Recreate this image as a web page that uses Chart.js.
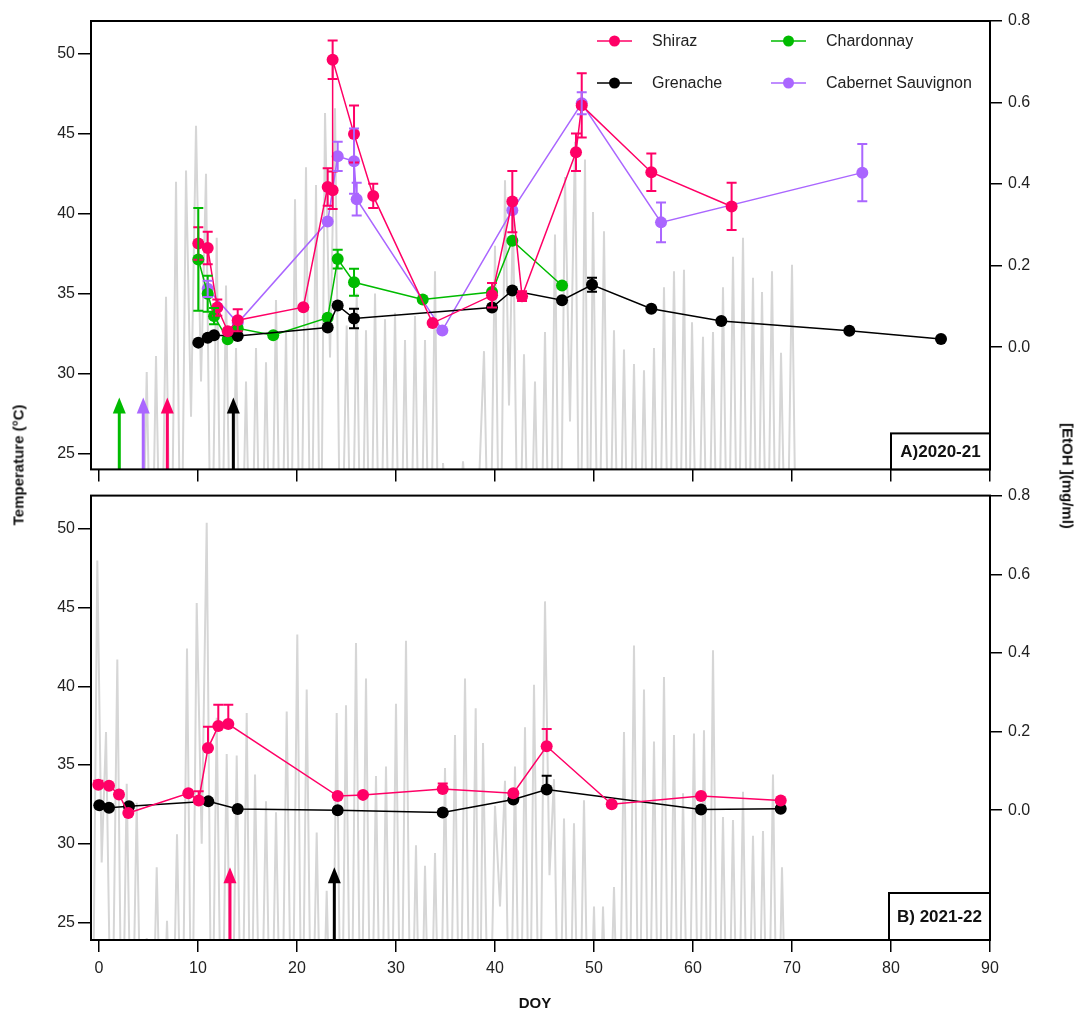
<!DOCTYPE html>
<html>
<head>
<meta charset="utf-8">
<script src="https://cdn.jsdelivr.net/npm/chart.js@4.4.1/dist/chart.umd.min.js"></script>
<style>
  body { margin: 0; background: #fff; width: 1080px; height: 1015px; position: relative; overflow: hidden;
         font-family: "Liberation Sans", Arial, sans-serif; }
  canvas { position: absolute; left: 0; }
  #chartA { top: 0; }
  #chartB { top: 480px; }
  .ttl { position: absolute; font-weight: bold; font-size: 15px; color: #111; white-space: nowrap;
         transform: translate(-50%, -50%); }
</style>
</head>
<body>
<canvas id="chartA" width="1080" height="485"></canvas>
<canvas id="chartB" width="1080" height="535"></canvas>
<div class="ttl" style="left:18px;top:465px;transform:translate(-50%,-50%) rotate(-90deg)">Temperature (°C)</div>
<div class="ttl" style="left:1068px;top:476px;transform:translate(-50%,-50%) rotate(90deg)">[EtOH ](mg/ml)</div>
<div class="ttl" style="left:535px;top:1002px">DOY</div>
<script>
// axis ticks
var DOY_TICKS = [0, 10, 20, 30, 40, 50, 60, 70, 80, 90];
var TEMP_TICKS = [25, 30, 35, 40, 45, 50];
var ETOH_TICKS = [0, 0.2, 0.4, 0.6, 0.8];
var ARROW_TIP_TEMP = 28.5;

// ---- A) 2020-21 : [EtOH] (mg/ml) ----
var doyA_shiraz = [10.03, 10.98, 11.95, 13.0, 14.01, 20.64, 23.1, 23.6, 23.6, 25.76, 27.7, 33.7, 39.7, 41.75, 42.73, 48.18, 48.76, 55.79, 63.9];
var etohA_shiraz = [0.254, 0.243, 0.097, 0.039, 0.066, 0.098, 0.393, 0.385, 0.705, 0.523, 0.371, 0.059, 0.127, 0.357, 0.125, 0.478, 0.593, 0.429, 0.345];
var errA_shiraz = [0.04, 0.04, 0.02, 0, 0.027, 0, 0.046, 0.046, 0.047, 0.07, 0.03, 0, 0.03, 0.075, 0.012, 0.046, 0.079, 0.046, 0.058];

var doyA_grenache = [10.03, 10.98, 11.62, 14.01, 23.1, 24.11, 25.76, 39.7, 41.75, 46.77, 49.8, 55.79, 62.86, 75.79, 85.05];
var etohA_grenache = [0.011, 0.023, 0.029, 0.027, 0.048, 0.102, 0.070, 0.097, 0.139, 0.115, 0.153, 0.094, 0.064, 0.040, 0.020];
var errA_grenache = [0, 0, 0, 0, 0, 0, 0.024, 0, 0, 0, 0.017, 0, 0, 0, 0];

var doyA_chardonnay = [10.03, 10.98, 11.62, 13.0, 14.01, 17.6, 23.1, 24.11, 25.76, 32.7, 39.7, 41.75, 46.77];
var etohA_chardonnay = [0.215, 0.131, 0.076, 0.019, 0.046, 0.029, 0.072, 0.216, 0.159, 0.117, 0.135, 0.261, 0.151];
var errA_chardonnay = [0.126, 0.044, 0.02, 0, 0, 0, 0, 0.023, 0.033, 0, 0, 0, 0];

var doyA_cabernet = [10.98, 14.01, 23.1, 24.11, 25.76, 26.03, 34.68, 41.75, 48.76, 56.77, 77.1];
var etohA_cabernet = [0.143, 0.059, 0.308, 0.468, 0.456, 0.363, 0.041, 0.336, 0.598, 0.306, 0.428];
var errA_cabernet = [0.02, 0, 0, 0.036, 0.08, 0.04, 0, 0, 0.027, 0.049, 0.07];

// grey temperature trace A: daily peaks and the lows around them (lows below 24 are off the axis)
var tempA_time = [4.82, 5.76, 6.77, 7.78, 8.79, 9.80, 10.81, 11.89, 12.83, 13.84,
  14.85, 15.86, 16.87, 17.88, 18.89, 19.8, 20.91, 21.92, 22.83, 23.84,
  25.02, 26.03, 26.97, 27.88, 28.89, 29.9, 30.91, 31.92, 32.93, 33.94,
  34.75, 36.77, 38.89, 40.0, 41.01, 41.82, 42.93, 44.04, 45.05, 46.06,
  47.07, 48.08, 49.09, 49.9, 51.01, 52.02, 53.03, 54.04, 55.05, 56.06,
  57.07, 58.08, 59.09, 59.9, 61.01, 62.02, 63.03, 64.04, 65.05, 66.06,
  66.97, 67.98, 68.89, 70.0];
var tempA_max = [30.1, 31.1, 34.8, 42.0, 42.7, 45.5, 42.5, 38.5, 35.5, 31.6,
  29.5, 31.6, 30.7, 34.6, 32.6, 40.9, 42.9, 41.8, 46.3, 46.6,
  33.0, 35.0, 32.7, 35.0, 33.4, 33.8, 32.1, 33.6, 32.1, 36.4,
  24.4, 24.5, 31.4, 38.0, 42.1, 40.0, 31.2, 29.5, 32.6, 38.7,
  42.3, 44.5, 43.4, 40.1, 38.9, 32.7, 31.5, 30.6, 30.2, 31.6,
  35.4, 36.4, 36.5, 33.2, 32.3, 32.6, 35.4, 37.3, 38.5, 36.0,
  35.1, 36.4, 31.3, 36.8];
var tempA_low = [14, 14, 14, 14, 14, 27.3, 29.5, 14, 14, 14,
  14, 14, 14, 14, 14, 14, 14, 14, 14, 31.0,
  14, 14, 14, 14, 14, 14, 14, 14, 14, 14,
  14, 14, 14, 14, 14, 28, 14, 14, 14, 14,
  14, 27, 14, 14, 14, 14, 14, 14, 14, 14,
  14, 14, 14, 14, 14, 14, 14, 14, 14, 14,
  14, 14, 14, 14, 14];

var arrowA_doy = [2.05, 4.47, 6.9, 13.57];

// ---- B) 2021-22 ----
var doyB_shiraz = [-0.07, 1.01, 2.02, 2.96, 9.02, 10.07, 11.01, 12.05, 13.06, 24.11, 26.67, 34.72, 41.85, 45.22, 51.79, 60.81, 68.86];
var etohB_shiraz = [0.065, 0.0625, 0.04, -0.007, 0.043, 0.025, 0.158, 0.214, 0.219, 0.036, 0.039, 0.054, 0.043, 0.1625, 0.015, 0.036, 0.025];
var errB_shiraz = [0.01, 0, 0, 0, 0, 0.023, 0.054, 0.054, 0.049, 0, 0, 0.014, 0, 0.044, 0, 0, 0];

var doyB_grenache = [0.03, 1.01, 3.03, 11.04, 14.01, 24.11, 34.72, 41.85, 45.22, 60.81, 68.86];
var etohB_grenache = [0.0125, 0.006, 0.01, 0.0225, 0.003, 0.0, -0.006, 0.0275, 0.0525, 0.002, 0.004];
var errB_grenache = [0, 0, 0, 0, 0, 0, 0, 0, 0.035, 0, 0];

var tempB_time = [-0.17, 0.71, 1.85, 2.80, 3.81, 4.82, 5.83, 6.87, 7.88, 8.89,
  9.87, 10.88, 11.89, 12.90, 13.91, 14.92, 15.76, 16.87, 17.88, 18.96,
  20.03, 20.98, 21.99, 23.0, 24.01, 24.95, 25.96, 26.97, 27.98, 28.99,
  30.0, 31.01, 32.02, 32.93, 33.94, 34.95, 35.96, 36.97, 38.05, 38.79,
  40.0, 41.01, 42.02, 43.03, 43.94, 45.05, 45.96, 46.97, 47.98, 48.99,
  50.0, 50.91, 52.02, 53.03, 54.04, 55.05, 56.06, 57.07, 58.08, 58.99,
  60.1, 61.11, 62.02, 63.03, 64.04, 65.05, 66.06, 67.07, 68.08, 68.99];
var tempB_max = [48.0, 37.1, 41.7, 33.8, 32.6, 24.0, 28.5, 25.1, 30.6, 42.4,
  45.3, 50.4, 38.0, 35.7, 35.6, 38.3, 34.4, 32.7, 32.0, 38.4,
  43.3, 39.8, 30.7, 27.0, 38.3, 38.8, 42.75, 40.5, 34.3, 34.9,
  38.9, 42.9, 29.9, 28.6, 29.4, 34.8, 36.9, 40.5, 38.6, 36.4,
  32.4, 34.0, 34.9, 37.4, 40.1, 45.4, 34.1, 31.6, 31.3, 32.75,
  26.0, 26.0, 27.25, 37.1, 42.6, 39.8, 36.5, 40.6, 36.9, 33.2,
  37.0, 37.2, 42.3, 31.7, 31.5, 33.3, 30.5, 30.8, 34.4, 28.5];
var tempB_low = [14, 28.8, 14, 14, 14, 14, 14, 14, 14, 14,
  14, 30, 14, 14, 14, 14, 14, 14, 14, 14,
  14, 14, 14, 14, 14, 14, 14, 14, 14, 14,
  14, 14, 14, 14, 14, 14, 14, 14, 14, 14,
  14, 26, 14, 14, 14, 14, 28, 14, 14, 14,
  14, 14, 14, 14, 14, 14, 14, 14, 14, 14,
  14, 14, 14, 14, 14, 14, 14, 14, 14, 14,
  14];

var arrowB_doy = [13.23, 23.77];

var C_SHIRAZ = '#ff0066', C_GRENACHE = '#000000', C_CHARD = '#00bb00', C_CAB = '#aa66ff', C_TEMP = '#d6d6d6';

Chart.defaults.font.family = '"Liberation Sans", Arial, sans-serif';
Chart.defaults.color = '#222';

function pts(xs, ys) {
  return xs.map(function (x, i) { return { x: x, y: ys[i] }; });
}

// peaks with a low before, between and after them
function trace(times, highs, lows) {
  var out = [{ x: times[0] - 0.5, y: lows[0] }];
  for (var i = 0; i < times.length; i++) {
    out.push({ x: times[i], y: highs[i] });
    if (i < times.length - 1) out.push({ x: (times[i] + times[i + 1]) / 2, y: lows[i + 1] });
  }
  out.push({ x: times[times.length - 1] + 0.5, y: lows[times.length] });
  return out;
}

function tempSet(data) {
  return { label: 'temp', data: data, yAxisID: 'y', borderColor: C_TEMP, borderWidth: 2,
           pointRadius: 0, order: 10 };
}

function seriesSet(label, color, xs, ys, err, mode, order) {
  return { label: label, data: pts(xs, ys), yAxisID: 'y2', borderColor: color, backgroundColor: color,
           pointBackgroundColor: color, pointBorderWidth: 0, pointRadius: 6, borderWidth: 1.5,
           order: order, err: err, errMode: mode };
}

function fixedTicks(values) {
  return function (scale) { scale.ticks = values.map(function (v) { return { value: v }; }); };
}

function makeOptions(p) {
  return {
    responsive: false, animation: false, devicePixelRatio: 1, events: [],
    layout: { padding: { top: p.topPad, left: 0, right: 0, bottom: 0 } },
    plugins: { legend: { display: false }, tooltip: { enabled: false } },
    scales: {
      x: { type: 'linear', min: -0.808, max: 90,
        afterBuildTicks: fixedTicks(DOY_TICKS),
        afterFit: function (s) { s.height = p.xHeight; },
        border: { display: false },
        grid: { drawOnChartArea: false, tickLength: 12, color: '#000', lineWidth: 1.5 },
        ticks: { display: p.xLabels, font: { size: 16 }, padding: 7, maxRotation: 0, autoSkip: false,
                 callback: function (v) { return String(v); } } },
      y: { type: 'linear', position: 'left', min: p.tMin, max: p.tMax,
        afterBuildTicks: fixedTicks(TEMP_TICKS),
        afterFit: function (s) { s.width = 91; },
        border: { display: false },
        grid: { drawOnChartArea: false, tickLength: 13, color: '#000', lineWidth: 1.5 },
        ticks: { font: { size: 16 }, padding: 3, callback: function (v) { return String(v); } } },
      y2: { type: 'linear', position: 'right', min: p.eMin, max: 0.8,
        afterBuildTicks: fixedTicks(ETOH_TICKS),
        afterFit: function (s) { s.width = 90; },
        border: { display: false },
        grid: { drawOnChartArea: false, tickLength: 12, color: '#000', lineWidth: 1.5 },
        ticks: { font: { size: 16 }, padding: 6, callback: function (v) { return v.toFixed(1); } } }
    }
  };
}

function makeDecor(cfg) {
  return {
    id: 'decor',
    afterDatasetDraw: function (chart, args) {
      if (args.index !== 0) return;
      var ctx = chart.ctx, area = chart.chartArea;
      var xs = chart.scales.x, ys = chart.scales.y;
      cfg.arrows.forEach(function (a) {
        var px = xs.getPixelForValue(a.doy);
        var tip = ys.getPixelForValue(ARROW_TIP_TEMP);
        ctx.save();
        ctx.strokeStyle = a.color;
        ctx.fillStyle = a.color;
        ctx.lineWidth = 3;
        ctx.beginPath();
        ctx.moveTo(px, area.bottom);
        ctx.lineTo(px, tip + 12);
        ctx.stroke();
        ctx.beginPath();
        ctx.moveTo(px, tip);
        ctx.lineTo(px - 6.5, tip + 16);
        ctx.lineTo(px + 6.5, tip + 16);
        ctx.closePath();
        ctx.fill();
        ctx.restore();
      });
    },
    afterDatasetsDraw: function (chart) {
      var ctx = chart.ctx, xs = chart.scales.x, ys = chart.scales.y2;
      chart.data.datasets.forEach(function (ds) {
        if (!ds.err) return;
        ctx.save();
        ctx.strokeStyle = ds.borderColor;
        ctx.lineWidth = 2;
        ds.data.forEach(function (d, j) {
          var e = ds.err[j];
          if (!e) return;
          var px = xs.getPixelForValue(d.x);
          var top = ys.getPixelForValue(d.y + e);
          var bot = ds.errMode === 'up' ? ys.getPixelForValue(d.y) : ys.getPixelForValue(d.y - e);
          ctx.beginPath();
          ctx.moveTo(px, top); ctx.lineTo(px, bot);
          ctx.moveTo(px - 5, top); ctx.lineTo(px + 5, top);
          if (ds.errMode !== 'up') { ctx.moveTo(px - 5, bot); ctx.lineTo(px + 5, bot); }
          ctx.stroke();
        });
        ctx.restore();
      });
    },
    afterDraw: function (chart) {
      var ctx = chart.ctx, area = chart.chartArea;
      ctx.save();
      ctx.strokeStyle = '#000';
      ctx.lineWidth = 2;
      ctx.strokeRect(area.left, area.top, area.right - area.left, area.bottom - area.top);
      // panel label
      var bx = area.right - cfg.boxW, by = area.bottom - cfg.boxH;
      ctx.fillStyle = '#fff';
      ctx.fillRect(bx, by, cfg.boxW, cfg.boxH);
      ctx.strokeRect(bx, by, cfg.boxW, cfg.boxH);
      ctx.fillStyle = '#111';
      ctx.font = 'bold 17px "Liberation Sans", Arial, sans-serif';
      ctx.textAlign = 'center';
      ctx.textBaseline = 'middle';
      ctx.fillText(cfg.label, bx + cfg.boxW / 2, by + cfg.boxH / 2 + 1);
      // legend
      ctx.textAlign = 'left';
      ctx.font = '16px "Liberation Sans", Arial, sans-serif';
      (cfg.legend || []).forEach(function (it) {
        ctx.strokeStyle = it.color;
        ctx.fillStyle = it.color;
        ctx.lineWidth = 1.5;
        ctx.beginPath();
        ctx.moveTo(it.x, it.y); ctx.lineTo(it.x + 35, it.y);
        ctx.stroke();
        ctx.beginPath();
        ctx.arc(it.x + 17.5, it.y, 5.5, 0, Math.PI * 2);
        ctx.fill();
        ctx.fillStyle = '#222';
        ctx.fillText(it.text, it.x + 55, it.y + 1);
      });
      ctx.restore();
    }
  };
}

new Chart(document.getElementById('chartA'), {
  type: 'line',
  data: { datasets: [
    tempSet(trace(tempA_time, tempA_max, tempA_low)),
    seriesSet('Shiraz', C_SHIRAZ, doyA_shiraz, etohA_shiraz, errA_shiraz, 'both', 1),
    seriesSet('Grenache', C_GRENACHE, doyA_grenache, etohA_grenache, errA_grenache, 'both', 2),
    seriesSet('Chardonnay', C_CHARD, doyA_chardonnay, etohA_chardonnay, errA_chardonnay, 'both', 3),
    seriesSet('Cabernet Sauvignon', C_CAB, doyA_cabernet, etohA_cabernet, errA_cabernet, 'both', 4)
  ] },
  options: makeOptions({ topPad: 21, xHeight: 15, xLabels: false, tMin: 24, tMax: 52.06, eMin: -0.3 }),
  plugins: [makeDecor({
    label: 'A)2020-21', boxW: 99, boxH: 36,
    arrows: [
      { doy: arrowA_doy[0], color: C_CHARD },
      { doy: arrowA_doy[1], color: C_CAB },
      { doy: arrowA_doy[2], color: C_SHIRAZ },
      { doy: arrowA_doy[3], color: C_GRENACHE }
    ],
    legend: [
      { text: 'Shiraz', color: C_SHIRAZ, x: 597, y: 41 },
      { text: 'Grenache', color: C_GRENACHE, x: 597, y: 83 },
      { text: 'Chardonnay', color: C_CHARD, x: 771, y: 41 },
      { text: 'Cabernet Sauvignon', color: C_CAB, x: 771, y: 83 }
    ]
  })]
});

new Chart(document.getElementById('chartB'), {
  type: 'line',
  data: { datasets: [
    tempSet(trace(tempB_time, tempB_max, tempB_low)),
    seriesSet('Shiraz', C_SHIRAZ, doyB_shiraz, etohB_shiraz, errB_shiraz, 'up', 1),
    seriesSet('Grenache', C_GRENACHE, doyB_grenache, etohB_grenache, errB_grenache, 'up', 2)
  ] },
  options: makeOptions({ topPad: 8, xHeight: 75, xLabels: true, tMin: 23.875, tMax: 52.125, eMin: -0.33 }),
  plugins: [makeDecor({
    label: 'B) 2021-22', boxW: 101, boxH: 47,
    arrows: [
      { doy: arrowB_doy[0], color: C_SHIRAZ },
      { doy: arrowB_doy[1], color: C_GRENACHE }
    ]
  })]
});
</script>
</body>
</html>
